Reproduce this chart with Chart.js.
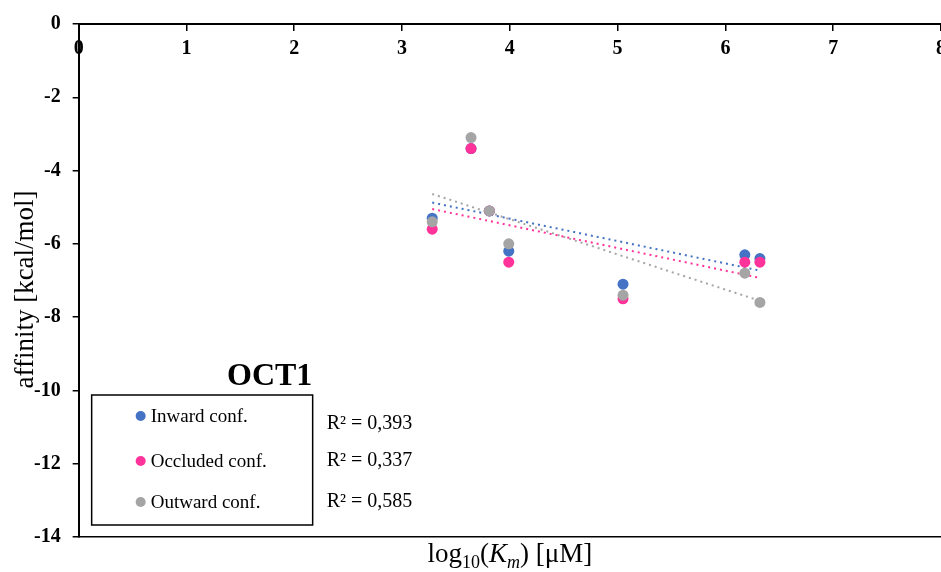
<!DOCTYPE html>
<html>
<head>
<meta charset="utf-8">
<script src="https://cdn.jsdelivr.net/npm/chart.js@4"></script>
<style>
  html, body { margin: 0; padding: 0; background: #fff; }
  #wrap { width: 941px; height: 572px; }
</style>
</head>
<body>
<div id="wrap"><canvas id="chartOct1"></canvas></div>
<script>
// values
var logKm = [3.28, 3.64, 3.81, 3.99, 5.05, 6.18, 6.32];
var inwardAffinity = [-5.3, -3.4, -5.1, -6.2, -7.1, -6.3, -6.4];
var occludedAffinity = [-5.6, -3.4, -5.1, -6.5, -7.5, -6.5, -6.5];
var outwardAffinity = [-5.4, -3.1, -5.1, -6.0, -7.4, -6.8, -7.6];
var seriesNames = ['Inward conf.', 'Occluded conf.', 'Outward conf.'];
var seriesColors = ['#4472C4', '#FF3399', '#A5A5A5'];
var r2Labels = ['R\u00B2 = 0,393', 'R\u00B2 = 0,337', 'R\u00B2 = 0,585'];
var panelTitle = 'OCT1';
var yTitle = 'affinity [kcal/mol]';

var serif = "'Liberation Serif', 'Times New Roman', serif";

function points(xs, ys) {
  return xs.map(function (x, i) { return {x: x, y: ys[i]}; });
}

// least squares line over the x range of the data (Excel linear trendline)
function trend(xs, ys) {
  var n = xs.length, sx = 0, sy = 0, sxx = 0, sxy = 0;
  for (var i = 0; i < n; i++) {
    sx += xs[i]; sy += ys[i]; sxx += xs[i] * xs[i]; sxy += xs[i] * ys[i];
  }
  var slope = (n * sxy - sx * sy) / (n * sxx - sx * sx);
  var icpt = (sy - slope * sx) / n;
  var x0 = Math.min.apply(null, xs), x1 = Math.max.apply(null, xs);
  return [{x: x0, y: icpt + slope * x0}, {x: x1, y: icpt + slope * x1}];
}

var allSeries = [inwardAffinity, occludedAffinity, outwardAffinity];
var datasets = [];
allSeries.forEach(function (ys, i) {
  datasets.push({
    label: seriesNames[i],
    data: points(logKm, ys),
    backgroundColor: seriesColors[i],
    borderColor: seriesColors[i],
    pointRadius: 5.5,
    pointBorderWidth: 0,
    order: 3 - i
  });
});
allSeries.forEach(function (ys, i) {
  datasets.push({
    label: seriesNames[i] + ' trend',
    data: trend(logKm, ys),
    showLine: true,
    borderColor: seriesColors[i],
    borderWidth: 2,
    borderDash: [2, 4],
    pointRadius: 0,
    fill: false,
    order: 10 + i
  });
});

var notesPlugin = {
  id: 'oct1Notes',
  afterDraw: function (chart) {
    var ctx = chart.ctx;
    var ca = chart.chartArea;
    ctx.save();
    ctx.fillStyle = '#000';

    // panel title
    ctx.font = 'bold 32px ' + serif;
    ctx.textAlign = 'center';
    ctx.textBaseline = 'middle';
    ctx.fillText(panelTitle, ca.left + 191, ca.top + 353);

    // legend box
    var bx = ca.left + 13, by = ca.top + 371;
    ctx.strokeStyle = '#000';
    ctx.lineWidth = 1.5;
    ctx.strokeRect(bx, by, 221, 130);
    var rows = [by + 21, by + 66, by + 107];
    ctx.font = '19px ' + serif;
    ctx.textAlign = 'left';
    for (var i = 0; i < 3; i++) {
      ctx.fillStyle = seriesColors[i];
      ctx.beginPath();
      ctx.arc(bx + 49, rows[i], 5, 0, Math.PI * 2);
      ctx.fill();
      ctx.fillStyle = '#000';
      ctx.fillText(seriesNames[i], bx + 59, rows[i] + 1);
    }
    // R² labels
    ctx.font = '20px ' + serif;
    var rr = [by + 29, by + 66, by + 107];
    for (var j = 0; j < 3; j++) {
      ctx.fillText(r2Labels[j], bx + 235, rr[j]);
    }

    // y axis title
    ctx.save();
    ctx.translate(26, (ca.top + ca.bottom) / 2 + 9);
    ctx.rotate(-Math.PI / 2);
    ctx.textAlign = 'center';
    ctx.font = '27px ' + serif;
    ctx.fillText(yTitle, 0, 0);
    ctx.restore();

    // x axis title: log10(Km) [µM]
    var big = 27, small = 18;
    var parts = [
      {t: 'log', f: big + 'px ' + serif, dy: 0},
      {t: '10', f: small + 'px ' + serif, dy: 6},
      {t: '(', f: big + 'px ' + serif, dy: 0},
      {t: 'K', f: 'italic ' + big + 'px ' + serif, dy: 0},
      {t: 'm', f: 'italic ' + small + 'px ' + serif, dy: 6},
      {t: ') [\u03BCM]', f: big + 'px ' + serif, dy: 0}
    ];
    var total = 0;
    parts.forEach(function (p) { ctx.font = p.f; p.w = ctx.measureText(p.t).width; total += p.w; });
    var x = (ca.left + 941) / 2 - total / 2;
    var baseY = ca.bottom + 25;
    ctx.textAlign = 'left';
    ctx.textBaseline = 'alphabetic';
    parts.forEach(function (p) {
      ctx.font = p.f;
      ctx.fillText(p.t, x, baseY + p.dy);
      x += p.w;
    });
    ctx.restore();
  }
};

// let the x axis run to the page edge like the original, "8" half cut off
function noSidePadding(scale) {
  scale.paddingLeft = 0;
  scale.paddingRight = 0;
}

var ctx = document.getElementById('chartOct1').getContext('2d');
var chart = new Chart(ctx, {
  type: 'scatter',
  data: { datasets: datasets },
  options: {
    responsive: true,
    maintainAspectRatio: false,
    animation: false,
    layout: { autoPadding: false, padding: { left: 22, top: 22, right: -2, bottom: 35 } },
    plugins: {
      legend: { display: false },
      tooltip: { enabled: false }
    },
    scales: {
      x: {
        type: 'linear',
        position: { y: 0 },
        min: 0,
        max: 8,
        ticks: {
          stepSize: 1,
          padding: 7,
          color: '#000',
          font: { family: serif, size: 20, weight: 'bold' }
        },
        grid: { drawOnChartArea: false, drawTicks: true, tickLength: 6, color: '#000', lineWidth: 1.5 },
        border: { display: true, color: '#000', width: 2 },
        afterFit: noSidePadding
      },
      x2: {
        type: 'linear',
        position: 'bottom',
        min: 0,
        max: 8,
        ticks: { display: false },
        grid: { display: false, drawTicks: false },
        border: { display: true, color: '#000', width: 1.5 },
        afterFit: noSidePadding
      },
      y: {
        type: 'linear',
        position: 'left',
        min: -14,
        max: 0,
        ticks: {
          stepSize: 2,
          padding: 12,
          color: '#000',
          font: { family: serif, size: 20, weight: 'bold' }
        },
        grid: { drawOnChartArea: false, drawTicks: true, tickLength: 6, color: '#000', lineWidth: 1.5 },
        border: { display: true, color: '#000', width: 2 }
      }
    }
  },
  plugins: [notesPlugin]
});
</script>
</body>
</html>
